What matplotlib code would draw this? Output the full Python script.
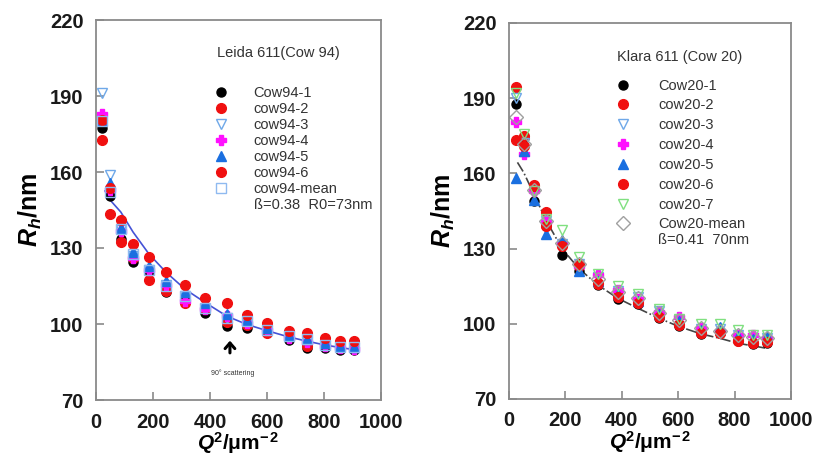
import numpy as np
import matplotlib
matplotlib.use('Agg')
from matplotlib import pyplot as plt

plt.rcParams['font.family'] = ['Liberation Sans', 'DejaVu Sans']
plt.rcParams['mathtext.fontset'] = 'custom'
plt.rcParams['mathtext.rm'] = 'Liberation Sans'
plt.rcParams['mathtext.it'] = 'Liberation Sans:italic'
plt.rcParams['mathtext.bf'] = 'Liberation Sans:bold'
plt.rcParams['mathtext.bfit'] = 'Liberation Sans:bold:italic'

# Leida 611 (Cow 94)
q2_94 = [21, 49, 87, 130, 186, 246, 313, 384, 459, 530, 599, 676, 741, 804, 857, 905]
cow94_1 = [177.5, 150.5, 133.5, 124.5, 121, 112.5, 109, 104.5, 99.2, 98.5, 97, 93.5, 90.6, 90.6, 89.8, 89.7]
cow94_2 = [172.5, 143.5, 132.5, 126, 117.3, 113, 108.2, 106, 100.7, 99.8, 96.5, 95, 91.5, 92, 90.5, 91]
cow94_3 = [191, 159, 137, 127, 121.5, 115.5, 111, 106, 102.5, 100.5, 97.5, 95, 93, 91.5, 90.5, 90.5]
cow94_4 = [183, 153, 136.7, 126, 121.5, 115.5, 109, 106, 103.1, 100.5, 97.5, 94.5, 93, 91.5, 90.5, 90]
cow94_5 = [180.6, 155.5, 138, 128.3, 123, 117, 112.8, 108.2, 104, 101.5, 98.5, 95.5, 94, 92.5, 91.5, 91]
cow94_6 = [180.5, 153.7, 140.9, 131.6, 126.3, 120.4, 115.5, 110.4, 108.4, 103.4, 100.5, 97.4, 96.5, 94.3, 93.3, 93.3]
cow94_mean = [180, 152, 137.6, 127.6, 121.4, 115, 111, 106.4, 102.5, 101.2, 97.8, 95.2, 93.9, 91.9, 91, 90.8]
fit94_x = [32, 49, 87, 130, 186, 246, 313, 384, 459, 530, 599, 676, 741, 804, 857, 905]
fit94_y = [152.5, 149, 144.2, 136.3, 127.6, 120.4, 113.7, 108.4, 103.1, 99.8, 97.4, 94.9, 93.2, 91.7, 90.7, 89.9]

# Klara 611 (Cow 20)
q2_20 = [24, 52, 88, 132, 188, 248, 316, 387, 459, 532, 603, 680, 748, 813, 866, 914]
cow20_1 = [187.6, 174, 149, 139, 127.5, 121, 115.5, 110, 108, 102.5, 99, 96, 96.5, 93, 92, 92.5]
cow20_2 = [194.4, 175, 155.5, 144.5, 131.5, 123, 116, 111, 108.5, 103, 100, 96.5, 96.5, 93.5, 92.5, 93]
cow20_3 = [190, 172, 152, 141, 132, 124, 118.5, 113, 110.5, 105, 101.5, 98, 98, 95.5, 94.5, 94.5]
cow20_4 = [180.7, 167.7, 153.1, 140.6, 132, 123, 119.4, 113.4, 110, 104.8, 102.8, 98.5, 97, 95.5, 95.5, 94.5]
cow20_5 = [158.2, 168.8, 149.2, 135.9, 133.3, 121.1, 117, 112, 109, 104, 101, 97.5, 98.6, 95, 94, 95]
cow20_6 = [173.3, 171, 155, 139.2, 130.9, 124, 116.1, 110.5, 108.4, 102.8, 99.5, 96.5, 96.5, 93.3, 92.2, 92.9]
cow20_7 = [192.2, 175.6, 153, 142, 137.3, 126.7, 120, 115, 111.8, 106.1, 102, 99.8, 99.8, 97.5, 95.5, 95.5]
cow20_mean = [182.5, 171.7, 153.4, 141, 132.2, 124, 118, 112.8, 110.1, 104.2, 101.5, 98.2, 97.3, 95.5, 94.6, 94.2]
fit20_x = [30, 52, 88, 132, 188, 248, 316, 387, 459, 532, 603, 680, 748, 813, 866, 914]
fit20_y = [164.4, 160.4, 151.8, 141.2, 130, 122, 115.4, 110.1, 106.1, 102.2, 98.9, 96, 94.2, 92.2, 91.2, 90.2]

xticks = [0, 200, 400, 600, 800, 1000]
yticks = [70, 100, 130, 160, 190, 220]

# marker styles: (marker, face, edge, size)
sty = {
    'black': ('o', 'black', 'black', 6.5),
    'red': ('o', '#f01010', '#f01010', 7),
    'tri_open': ('v', 'none', '#6fa8e8', 7),
    'plus': ('P', '#ff10ff', '#ff10ff', 6.5),
    'tri': ('^', '#1a6fe0', '#1a6fe0', 7),
    'sq_open': ('s', 'none', '#8fbaf0', 7.5),
    'green_open': ('v', 'none', '#80e080', 7),
    'dia_open': ('D', 'none', '#a0a0a0', 7.5),
}

fig = plt.figure(figsize=(8.14, 4.62), dpi=100)
ax1 = fig.add_axes([96 / 814, 62 / 462, 285 / 814, 380 / 462])
ax2 = fig.add_axes([509 / 814, 63 / 462, 282 / 814, 376 / 462])


def pts(ax, x, y, key, label):
    m, fc, ec, ms = sty[key]
    return ax.plot(x, y, ls='none', marker=m, mfc=fc, mec=ec, ms=ms, mew=1.0, label=label)[0]


def style_axes(ax):
    ax.set_xlim(0, 1000)
    ax.set_ylim(70, 220)
    ax.set_xticks(xticks)
    ax.set_yticks(yticks)
    for s in ax.spines.values():
        s.set_color('#8a8a8a')
        s.set_linewidth(1.3)
    ax.tick_params(direction='in', length=6, width=1.2, color='#8a8a8a',
                   labelsize=14.5, pad=9, top=False, right=False)
    for lab in ax.get_xticklabels() + ax.get_yticklabels():
        lab.set_fontweight('bold')
        lab.set_color('#1a1a1a')
    ax.set_ylabel(r'$\mathbfit{R}_{\mathbfit{h}}$/nm', fontsize=18, fontweight='bold', labelpad=4)
    ax.set_xlabel(r'$\mathbfit{Q}^{\mathbf{2}}$/μm$^{\mathbf{-\,2}}$', fontsize=15,
                  fontweight='bold', labelpad=-1)


# left panel
ax1.plot(fit94_x, fit94_y, color='#4452d6', lw=1.2, zorder=1)
h1 = [
    pts(ax1, q2_94, cow94_1, 'black', 'Cow94-1'),
    pts(ax1, q2_94, cow94_2, 'red', 'cow94-2'),
    pts(ax1, q2_94, cow94_3, 'tri_open', 'cow94-3'),
    pts(ax1, q2_94, cow94_4, 'plus', 'cow94-4'),
    pts(ax1, q2_94, cow94_5, 'tri', 'cow94-5'),
    pts(ax1, q2_94, cow94_6, 'red', 'cow94-6'),
    pts(ax1, q2_94, cow94_mean, 'sq_open', 'cow94-mean'),
]
style_axes(ax1)
leg1 = ax1.legend(handles=h1, loc='upper left', bbox_to_anchor=(0.413, 0.826), frameon=False,
                  fontsize=10.5, handlelength=1.0, handletextpad=1.7, labelspacing=0.14,
                  borderpad=0, borderaxespad=0)
for t in leg1.get_texts():
    t.set_color('#333333')
ax1.text(0.425, 0.913, 'Leida 611(Cow 94)', transform=ax1.transAxes, fontsize=10.5,
         color='#333333', va='center', ha='left')
ax1.text(0.554, 0.513, 'ß=0.38  R0=73nm', transform=ax1.transAxes, fontsize=10.5,
         color='#333333', va='center', ha='left')
ax1.annotate('', xy=(470, 94.5), xytext=(470, 87.5),
             arrowprops=dict(arrowstyle='->,head_width=0.35,head_length=0.4', lw=2.2, color='black'))
ax1.text(480, 80.6, '90° scattering', fontsize=5, ha='center', va='center', color='#333333')

# right panel
ax2.plot(fit20_x, fit20_y, color='#444444', lw=1.2, ls='-.', zorder=1)
h2 = [
    pts(ax2, q2_20, cow20_1, 'black', 'Cow20-1'),
    pts(ax2, q2_20, cow20_2, 'red', 'cow20-2'),
    pts(ax2, q2_20, cow20_3, 'tri_open', 'cow20-3'),
    pts(ax2, q2_20, cow20_4, 'plus', 'cow20-4'),
    pts(ax2, q2_20, cow20_5, 'tri', 'cow20-5'),
    pts(ax2, q2_20, cow20_6, 'red', 'cow20-6'),
    pts(ax2, q2_20, cow20_7, 'green_open', 'cow20-7'),
    pts(ax2, q2_20, cow20_mean, 'dia_open', 'Cow20-mean'),
]
style_axes(ax2)
leg2 = ax2.legend(handles=h2, loc='upper left', bbox_to_anchor=(0.378, 0.852), frameon=False,
                  fontsize=10.5, handlelength=1.0, handletextpad=1.9, labelspacing=0.4,
                  borderpad=0, borderaxespad=0)
for t in leg2.get_texts():
    t.set_color('#333333')
ax2.text(0.383, 0.910, 'Klara 611 (Cow 20)', transform=ax2.transAxes, fontsize=10.5,
         color='#333333', va='center', ha='left')
ax2.text(0.528, 0.423, 'ß=0.41  70nm', transform=ax2.transAxes, fontsize=10.5,
         color='#333333', va='center', ha='left')

fig.savefig('out.png', dpi=100)
